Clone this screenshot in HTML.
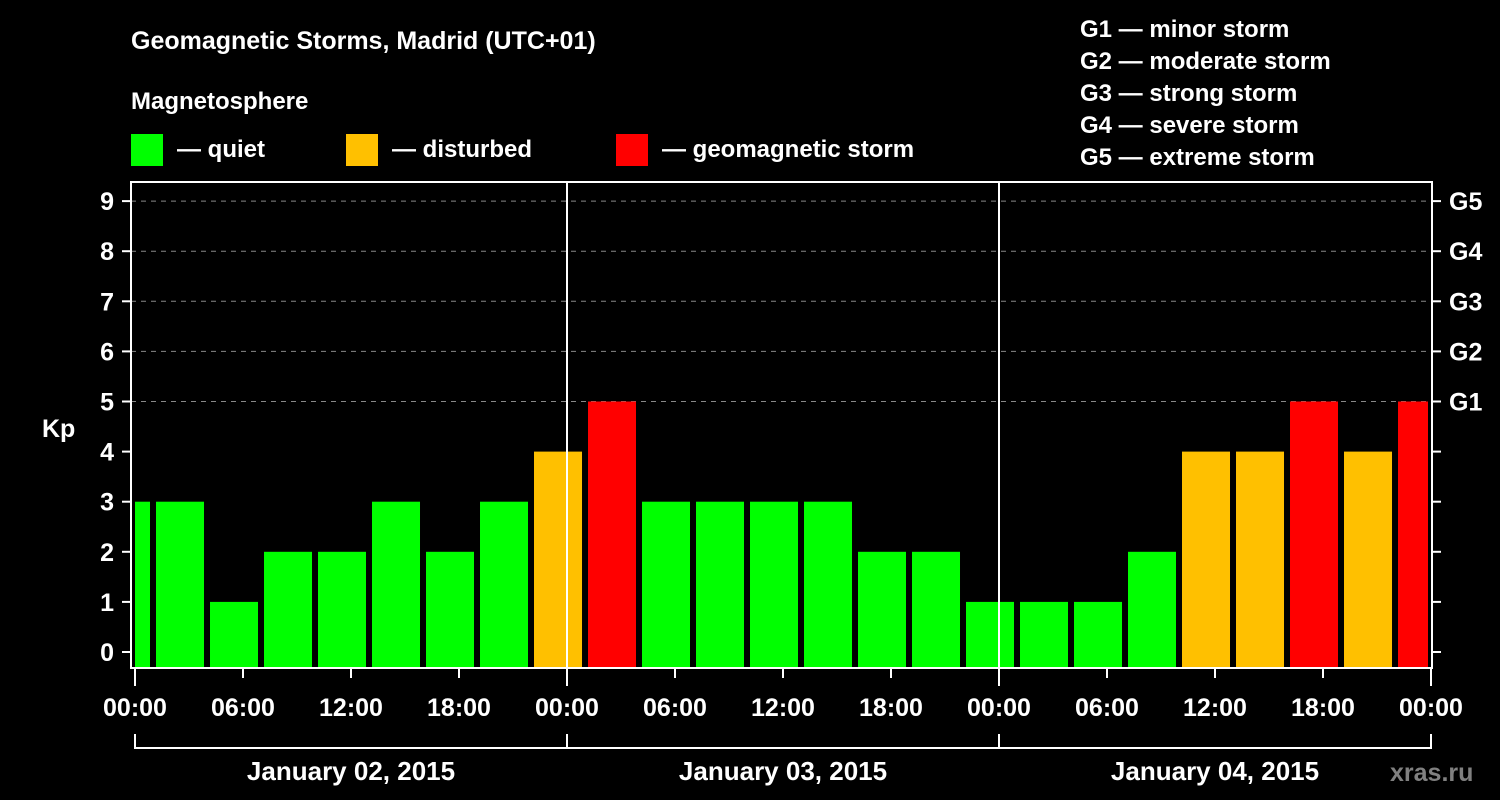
<!DOCTYPE html>
<html><head><meta charset="utf-8"><style>
body{margin:0;background:#000;width:1500px;height:800px;overflow:hidden}
svg{display:block}
text{font-family:"Liberation Sans",Arial,sans-serif;font-weight:bold;fill:#fff}
</style></head><body>
<svg id="c" width="1500" height="800">
<text x="131" y="49" font-size="25">Geomagnetic Storms, Madrid (UTC+01)</text>
<text x="131" y="109" font-size="24">Magnetosphere</text>
<g><rect x="131" y="134" width="32" height="32" fill="#00ff00"/><text x="177" y="157" font-size="24">— quiet</text></g>
<g><rect x="346" y="134" width="32" height="32" fill="#ffc000"/><text x="392" y="157" font-size="24">— disturbed</text></g>
<g><rect x="616" y="134" width="32" height="32" fill="#ff0000"/><text x="662" y="157" font-size="24">— geomagnetic storm</text></g>
<g font-size="24">
<text x="1080" y="37">G1 — minor storm</text>
<text x="1080" y="69">G2 — moderate storm</text>
<text x="1080" y="101">G3 — strong storm</text>
<text x="1080" y="133">G4 — severe storm</text>
<text x="1080" y="165">G5 — extreme storm</text>
</g>
<text x="42" y="437" font-size="25">Kp</text>
<g id="grid"></g><g id="bars"></g><g id="axes"></g>
<text x="1390" y="781" font-size="25" style="fill:#808080">xras.ru</text>
</svg>
<script>
const kpValues=[3,3,1,2,2,3,2,3,4,5,3,3,3,3,2,2,1,1,1,2,4,4,5,4,5];
const kpStatus=["q","q","q","q","q","q","q","q","d","s","q","q","q","q","q","q","q","q","q","q","d","d","s","d","s"];
const yTicks=[0,1,2,3,4,5,6,7,8,9];
const gLabels=["G1","G2","G3","G4","G5"];
const timeLabels=["00:00","06:00","12:00","18:00","00:00","06:00","12:00","18:00","00:00","06:00","12:00","18:00","00:00"];
const dayLabels=["January 02, 2015","January 03, 2015","January 04, 2015"];
const NS="http://www.w3.org/2000/svg";
const L=131,R=1432,T=182,B=668,X0=135,PXH=18;
const y=v=>652-v*50.1;
const xH=h=>X0+h*PXH; // hours from start
const colors={q:"#00ff00",d:"#ffc000",s:"#ff0000"};
function mk(p,tag,a){const e=document.createElementNS(NS,tag);for(const k in a)e.setAttribute(k,a[k]);p.appendChild(e);return e;}
const grid=document.getElementById('grid'),bars=document.getElementById('bars'),axes=document.getElementById('axes');
yTicks.forEach(v=>{
 if(v>=5){const g=mk(grid,'line',{x1:L,x2:R,y1:y(v),y2:y(v),stroke:'#888','stroke-dasharray':'5,5','stroke-width':1});
 
 }
 const tl=mk(axes,'line',{x1:122,x2:L,y1:y(v),y2:y(v),stroke:'#fff','stroke-width':2});
 
 
 const tr=mk(axes,'line',{x1:R,x2:1441,y1:y(v),y2:y(v),stroke:'#fff','stroke-width':2});
 
 
 const t=mk(axes,'text',{x:114,y:y(v)+9,'font-size':25,'text-anchor':'end'});t.textContent=v;
 
 
});
gLabels.forEach((g,i)=>{const t=mk(axes,'text',{x:1449,y:y(5+i)+9,'font-size':25});t.textContent=g;
 
 });
// bars: each 3h interval starting at -2h (UTC+1 shift)
mk(bars,'clipPath',{id:'cp'}).appendChild(document.createElementNS(NS,'rect'));
const cr=bars.querySelector('clipPath rect');cr.setAttribute('x',X0);cr.setAttribute('y',0);cr.setAttribute('width',1428-X0);cr.setAttribute('height',800);
kpValues.forEach((v,i)=>{
 const x1=xH(-1.833+i*3);
 const b=mk(bars,'rect',{x:x1,y:y(v),width:3*PXH-6,height:B-y(v),fill:colors[kpStatus[i]],'clip-path':'url(#cp)'});
 
 
});
const fr=mk(axes,'rect',{x:L,y:T,width:R-L,height:B-T,fill:'none',stroke:'#fff','stroke-width':2});


[1,2].forEach(d=>{const l=mk(axes,'line',{x1:xH(24*d),x2:xH(24*d),y1:T,y2:B,stroke:'#fff','stroke-width':2});
 
 });
timeLabels.forEach((s,i)=>{const x=xH(i*6);const major=i%4==0;
 const l=mk(axes,'line',{x1:x,x2:x,y1:B,y2:major?686:678,stroke:'#fff','stroke-width':2});
 
 
 const t=mk(axes,'text',{x:x,y:716,'font-size':25,'text-anchor':'middle'});t.textContent=s;
 
 });
const br=mk(axes,'line',{x1:xH(0),x2:xH(72),y1:748,y2:748,stroke:'#fff','stroke-width':2});


[0,1,2,3].forEach(d=>{const l=mk(axes,'line',{x1:xH(24*d),x2:xH(24*d),y1:734,y2:749,stroke:'#fff','stroke-width':2});
 
 });
dayLabels.forEach((s,i)=>{const t=mk(axes,'text',{x:xH(24*i+12),y:780,'font-size':26,'text-anchor':'middle'});t.textContent=s;
 
 });
</script>
</body></html>
